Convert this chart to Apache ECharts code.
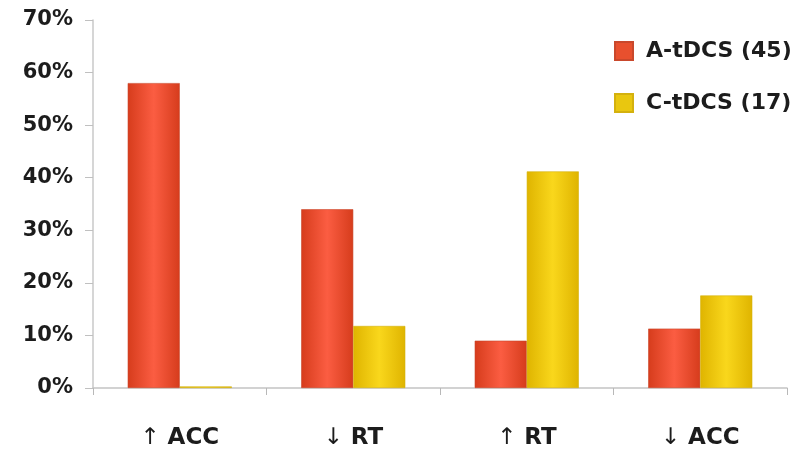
<!DOCTYPE html>
<html>
<head>
<meta charset="utf-8">
<script src="https://cdn.jsdelivr.net/npm/echarts@6/dist/echarts.min.js"></script>
<style>
  html, body { margin: 0; padding: 0; background: #fff; }
  #chart { width: 811px; height: 457px; }
</style>
</head>
<body>
<div id="chart"></div>
<script>
// Outcome categories (arrow + measure)
const categories = ['↑ ACC', '↓ RT', '↑ RT', '↓ ACC'];
// Share of studies per outcome, in percent
const anodalValues = [58, 34, 9, 11.3];
const cathodalValues = [0.3, 11.8, 41.2, 17.6];
const seriesNames = ['A-tDCS (45)', 'C-tDCS (17)'];
const yTicks = [0, 10, 20, 30, 40, 50, 60, 70];

const FONT = 'DejaVu Sans';

function barGradient(edge, mid) {
  return {
    type: 'linear', x: 0, y: 0, x2: 1, y2: 0,
    colorStops: [
      { offset: 0, color: edge },
      { offset: 0.5, color: mid },
      { offset: 1, color: edge }
    ]
  };
}

const chart = echarts.init(document.getElementById('chart'));
chart.setOption({
  animation: false,
  backgroundColor: '#ffffff',
  grid: { left: 93, right: 24, top: 20, bottom: 69, containLabel: false },
  legend: {
    orient: 'vertical',
    left: 609,
    top: 35,
    itemWidth: 18,
    itemHeight: 18,
    itemGap: 30,
    icon: 'rect',
    textStyle: { fontFamily: FONT, fontWeight: 'bold', fontSize: 22, color: '#1c1c1c', padding: [0, 0, 0, 8] },
    data: [
      { name: seriesNames[0], itemStyle: { color: '#e8502e' } },
      { name: seriesNames[1], itemStyle: { color: '#e9c70f' } }
    ]
  },
  xAxis: {
    type: 'category',
    data: categories,
    axisLine: { lineStyle: { color: '#c4c4c4', width: 1.5 } },
    axisTick: { show: true, length: 7, lineStyle: { color: '#b8b8b8' } },
    axisLabel: {
      margin: 39,
      formatter: function (v) {
        const arrow = v.slice(0, 1);
        const rest = v.slice(1);
        return '{a|' + arrow + '}{b|' + rest + '}';
      },
      rich: {
        a: { fontFamily: FONT, fontWeight: 'normal', fontSize: 23, color: '#1c1c1c' },
        b: { fontFamily: FONT, fontWeight: 'bold', fontSize: 23, color: '#1c1c1c' }
      }
    }
  },
  yAxis: {
    type: 'value',
    min: yTicks[0],
    max: yTicks[yTicks.length - 1],
    interval: 10,
    splitLine: { show: false },
    axisLine: { show: true, lineStyle: { color: '#c8c8c8', width: 1.5 } },
    axisTick: { show: true, length: 8, lineStyle: { color: '#c0c0c0' } },
    axisLabel: {
      margin: 20,
      formatter: '{value}%',
      fontFamily: FONT,
      fontWeight: 'bold',
      fontSize: 21,
      color: '#1c1c1c'
    }
  },
  series: [
    {
      name: seriesNames[0],
      type: 'bar',
      data: anodalValues,
      barGap: '0%',
      barCategoryGap: '40%',
      itemStyle: {
        color: barGradient('#d63c1c', '#fb5d42'),
        borderColor: '#c9482c',
        borderWidth: 0.6
      }
    },
    {
      name: seriesNames[1],
      type: 'bar',
      data: cathodalValues,
      barGap: '0%',
      barCategoryGap: '40%',
      itemStyle: {
        color: barGradient('#dfb400', '#f9d71c'),
        borderColor: '#d4b10e',
        borderWidth: 0.6
      }
    }
  ]
});
</script>
</body>
</html>
